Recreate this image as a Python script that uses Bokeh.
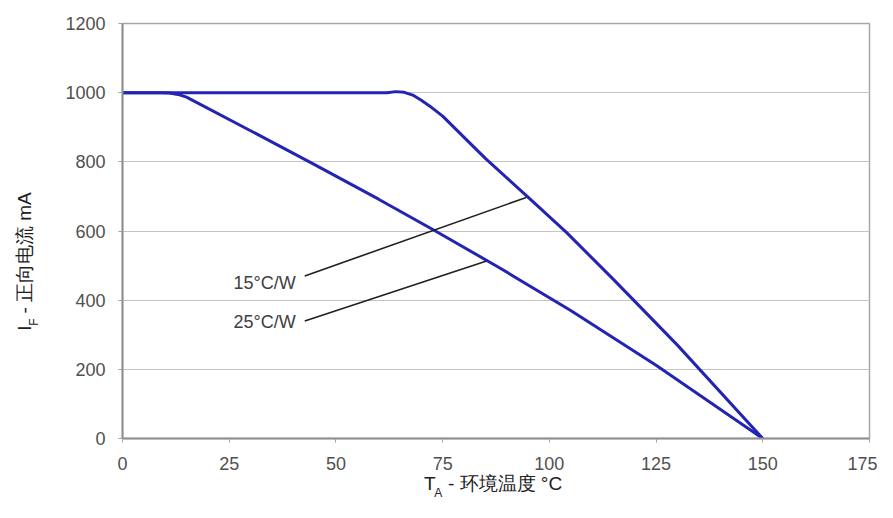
import math
from bokeh.plotting import figure
from bokeh.models import Range1d, FixedTicker, LinearAxis
from bokeh.core.properties import value
from bokeh.embed import file_html
from bokeh.resources import INLINE

# ---- data ----
x_ticks = [0, 25, 50, 75, 100, 125, 150, 175]
y_ticks = [0, 200, 400, 600, 800, 1000, 1200]

temp_15 = [0, 62, 64, 66, 68, 70, 72, 75, 85, 95, 104, 115, 130, 150]
curr_15 = [1000, 1000, 1003, 1001, 993, 978, 961, 932, 810, 698, 596, 460, 270, 0]

temp_25 = [0, 9, 11, 13, 15, 30, 45, 60, 73, 88, 105, 125, 150]
curr_25 = [1000, 1000, 999, 995, 987, 890, 792, 692, 602, 496, 370, 212, 0]

note_text = ["15°C/W", "25°C/W"]
note_x = [40.6, 40.6]
note_y = [451, 338]
lead_x0 = [42.7, 42.7]
lead_y0 = [470, 340]
lead_x1 = [94.6, 85.3]
lead_y1 = [697, 513]

# axis title pieces (main text + subscript), anchored at data positions
NB = "\u00a0"
x_title_main = {72: "T", 89: NB + "- 环境温度 °C"}
x_title_sub = {74: "A"}
y_title_main = {319: "I", 529: NB + "- 正向电流 mA"}
y_title_sub = {337: "F"}

FONT = "Liberation Sans"
CURVE = "#2323b4"
LBL = "#202020"

p = figure(width=877, height=502,
           x_range=Range1d(0, 175), y_range=Range1d(0, 1200),
           output_backend="svg", toolbar_location=None,
           min_border_left=122, min_border_right=8,
           min_border_top=23, min_border_bottom=62)

p.background_fill_color = "white"
p.border_fill_color = "white"
p.outline_line_color = "#a8a8a8"
p.outline_line_width = 1.5

p.xgrid.grid_line_color = None
p.ygrid.grid_line_color = "#c4c4c4"
p.ygrid.grid_line_width = 1.2

p.xaxis.ticker = FixedTicker(ticks=x_ticks)
p.yaxis.ticker = FixedTicker(ticks=y_ticks)
for ax in (p.xaxis[0], p.yaxis[0]):
    ax.axis_line_color = "#909090"
    ax.axis_line_width = 2
    ax.major_tick_line_color = "#a0a0a0"
    ax.major_tick_out = 4
    ax.major_tick_in = 0
    ax.minor_tick_line_color = None
    ax.major_label_text_font = FONT
    ax.major_label_text_font_size = "18px"
    ax.major_label_text_color = "#505050"
p.xaxis.major_label_standoff = 14
p.yaxis.major_label_standoff = 13


def title_axis(side, labels, size, standoff):
    ax = LinearAxis(ticker=FixedTicker(ticks=list(labels.keys())),
                    major_label_overrides=labels,
                    axis_line_color=None, major_tick_line_color=None,
                    minor_tick_line_color=None,
                    major_tick_in=0, major_tick_out=0,
                    major_label_standoff=standoff,
                    major_label_text_font=FONT,
                    major_label_text_font_size=size,
                    major_label_text_color=LBL)
    if side == "left":
        ax.major_label_orientation = "parallel"
    p.add_layout(ax, side)
    return ax


# x-axis title: T_A - 环境温度 °C
title_axis("below", x_title_main, "19px", 0)
title_axis("below", x_title_sub, "12px", -11)
# y-axis title: I_F - 正向电流 mA
title_axis("left", y_title_sub, "12px", 21)
title_axis("left", y_title_main, "19px", -11)

# curves
p.line(temp_25, curr_25, line_color=CURVE, line_width=3)
p.line(temp_15, curr_15, line_color=CURVE, line_width=3)

# leader lines and notes
p.segment(x0=lead_x0, y0=lead_y0, x1=lead_x1, y1=lead_y1,
          line_color="#202020", line_width=1.6)
p.text(x=note_x, y=note_y, text=note_text, text_font=value(FONT),
       text_font_size="18px", text_color="#404040",
       text_align="right", text_baseline="middle")

open("out.html", "w").write(file_html(p, INLINE))
